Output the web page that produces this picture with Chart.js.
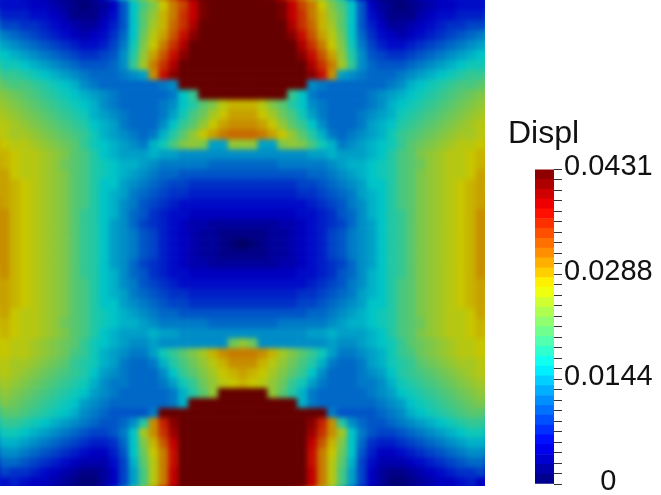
<!DOCTYPE html>
<html><head><meta charset="utf-8">
<style>html,body{margin:0;padding:0;width:661px;height:495px;overflow:hidden;background:#fff}
canvas{position:absolute;display:block}
#fieldBox{position:absolute;left:0;top:0;width:485px;height:486px;overflow:hidden}
#field{left:-12px;top:-12px;filter:blur(2.5px)}</style>
<script src="https://cdn.jsdelivr.net/npm/chart.js@4"></script>
</head><body>
<div id="fieldBox"><canvas id="field" width="510" height="511"></canvas></div>
<canvas id="bar" width="153" height="395" style="left:508px;top:110px"></canvas>
<script>
// Displacement, in units of 0.001
const row00=[6,6,6,5,5,4,3,2,1,2,3,5,10,16,20,23,27,31,34,38,42,43,43,43,43,43,43,43,42,38,34,31,27,23,20,16,10,5,3,2,1,2,3,4,5,5,6,6,6];
const row01=[7,7,7,6,6,5,4,2,2,2,4,6,10,16,21,24,28,31,35,38,42,43,43,43,43,43,43,43,42,38,35,31,28,24,21,16,10,6,4,2,2,2,4,5,6,6,7,7,7];
const row02=[9,9,8,8,7,6,5,4,3,3,5,7,10,16,21,25,28,32,35,39,43,43,43,43,43,43,43,43,43,39,35,32,28,25,21,16,10,7,5,3,3,4,5,6,7,8,8,9,9];
const row03=[12,11,10,9,8,7,6,5,4,5,6,8,11,16,22,26,29,33,37,41,43,43,43,43,43,43,43,43,43,41,37,33,29,26,22,16,11,8,6,5,4,5,6,7,8,9,10,11,12];
const row04=[14,13,12,11,10,9,8,7,6,6,7,9,12,17,23,27,31,35,39,43,43,43,43,43,43,43,43,43,43,43,39,35,31,27,23,17,12,9,7,6,6,7,8,9,10,11,12,13,14];
const row05=[16,15,14,13,12,11,10,9,8,8,9,10,13,18,24,29,33,37,41,43,43,43,43,43,43,43,43,43,43,43,41,37,33,29,24,18,13,10,9,8,8,9,10,11,12,13,14,15,16];
const row06=[17,17,16,15,14,13,12,11,10,10,10,11,13,19,25,31,35,39,43,43,43,43,43,43,43,43,43,43,43,43,43,39,35,31,25,19,13,11,10,10,10,11,12,13,14,15,16,17,17];
const row07=[19,19,18,17,16,15,14,13,12,11,11,11,12,13,14,30,37,41,43,43,43,43,43,43,43,43,43,43,43,43,43,41,37,30,14,13,12,11,11,11,12,13,14,15,16,17,18,19,19];
const row08=[21,20,20,19,18,17,16,15,13,12,11,11,11,11,11,11,12,13,43,43,43,43,43,43,43,43,43,43,43,43,43,13,12,11,11,11,11,11,11,12,13,15,16,17,18,19,20,20,21];
const row09=[23,22,21,20,19,18,17,16,15,14,13,12,11,11,11,11,11,12,16,19,43,43,43,43,43,43,43,43,43,19,16,12,11,11,11,11,11,12,13,14,15,16,17,18,19,20,21,22,23];
const row10=[24,23,22,21,20,19,18,17,16,15,13,12,11,11,11,11,12,13,16,18,21,23,26,28,28,28,26,23,21,18,16,13,12,11,11,11,11,12,13,15,16,17,18,19,20,21,22,23,24];
const row11=[25,24,23,22,21,20,19,18,17,15,14,13,12,11,11,11,12,14,17,20,22,25,27,29,29,29,27,25,22,20,17,14,12,11,11,11,12,13,14,15,17,18,19,20,21,22,23,24,25];
const row12=[26,25,24,23,22,21,20,19,18,16,15,14,12,11,11,11,13,16,19,21,24,27,29,30,30,30,29,27,24,21,19,16,13,11,11,11,12,14,15,16,18,19,20,21,22,23,24,25,26];
const row13=[26,25,25,24,23,22,21,20,19,17,15,14,13,12,11,12,15,18,21,24,27,29,31,32,32,32,31,29,27,24,21,18,15,12,11,12,13,14,15,17,19,20,21,22,23,24,25,25,26];
const row14=[27,26,26,25,24,23,22,21,19,17,16,15,14,13,12,15,17,20,23,24,23,14,14,24,24,24,14,14,23,24,23,20,17,15,12,13,14,15,16,17,19,21,22,23,24,25,26,26,27];
const row15=[28,27,26,26,25,24,23,21,20,18,16,15,14,14,14,15,14,14,13,13,13,13,13,13,13,13,13,13,13,13,13,14,14,15,14,14,14,15,16,18,20,21,23,24,25,26,26,27,28];
const row16=[28,27,26,26,25,24,22,21,20,18,17,16,15,15,14,13,12,12,12,12,12,11,11,11,11,11,11,11,12,12,12,12,12,13,14,15,15,16,17,18,20,21,22,24,25,26,26,27,28];
const row17=[29,27,26,26,25,24,23,21,20,18,17,16,15,14,13,12,11,11,10,10,10,10,10,10,10,10,10,10,10,10,10,11,11,12,13,14,15,16,17,18,20,21,23,24,25,26,26,27,29];
const row18=[29,28,27,26,25,24,23,21,20,18,16,16,14,13,12,11,10,9,9,8,8,8,8,8,8,8,8,8,8,8,9,9,10,11,12,13,14,16,16,18,20,21,23,24,25,26,27,28,29];
const row19=[29,28,27,26,25,24,23,21,20,18,16,15,14,12,11,10,9,8,8,7,7,7,7,7,7,7,7,7,7,7,8,8,9,10,11,12,14,15,16,18,20,21,23,24,25,26,27,28,29];
const row20=[29,28,27,26,25,24,23,21,20,18,16,15,13,12,10,9,8,7,6,6,6,6,6,6,6,6,6,6,6,6,6,7,8,9,10,12,13,15,16,18,20,21,23,24,25,26,27,28,29];
const row21=[30,28,27,26,25,24,23,21,19,18,16,15,13,11,10,8,7,6,6,5,5,5,5,5,5,5,5,5,5,5,6,6,7,8,10,11,13,15,16,18,19,21,23,24,25,26,27,28,30];
const row22=[30,28,27,26,25,24,23,21,19,18,16,14,13,11,9,8,7,6,5,4,4,3,3,3,3,3,3,3,4,4,5,6,7,8,9,11,13,14,16,18,19,21,23,24,25,26,27,28,30];
const row23=[30,28,27,26,25,24,23,21,19,18,16,14,13,12,10,9,7,6,5,4,3,3,2,2,2,2,2,3,3,4,5,6,7,9,10,12,13,14,16,18,19,21,23,24,25,26,27,28,30];
const row24=[30,28,27,26,25,24,23,21,19,18,16,14,13,12,10,9,7,6,5,4,3,3,2,1,0,1,2,3,3,4,5,6,7,9,10,12,13,14,16,18,19,21,23,24,25,26,27,28,30];
const row25=[30,28,27,26,25,24,23,21,19,18,16,14,13,12,10,9,7,6,5,4,3,3,2,2,2,2,2,3,3,4,5,6,7,9,10,12,13,14,16,18,19,21,23,24,25,26,27,28,30];
const row26=[30,28,27,26,25,24,23,21,19,18,16,14,13,11,9,8,7,6,5,4,4,3,3,3,3,3,3,3,4,4,5,6,7,8,9,11,13,14,16,18,19,21,23,24,25,26,27,28,30];
const row27=[30,28,27,26,25,24,23,21,19,18,16,15,13,11,10,8,7,6,6,5,5,5,5,5,5,5,5,5,5,5,6,6,7,8,10,11,13,15,16,18,19,21,23,24,25,26,27,28,30];
const row28=[29,28,27,26,25,24,23,21,20,18,16,15,13,12,10,9,8,7,6,6,6,6,6,6,6,6,6,6,6,6,6,7,8,9,10,12,13,15,16,18,20,21,23,24,25,26,27,28,29];
const row29=[29,28,27,26,25,24,23,21,20,18,16,15,14,12,11,10,9,8,8,7,7,7,7,7,7,7,7,7,7,7,8,8,9,10,11,12,14,15,16,18,20,21,23,24,25,26,27,28,29];
const row30=[29,28,27,26,25,24,23,21,20,18,16,16,14,13,12,11,10,9,9,8,8,8,8,8,8,8,8,8,8,8,9,9,10,11,12,13,14,16,16,18,20,21,23,24,25,26,27,28,29];
const row31=[29,27,26,26,25,24,23,21,20,18,17,16,15,14,13,12,11,11,10,10,10,10,10,10,10,10,10,10,10,10,10,11,11,12,13,14,15,16,17,18,20,21,23,24,25,26,26,27,29];
const row32=[28,27,26,26,25,24,22,21,20,18,17,16,15,15,14,13,12,12,12,12,12,11,11,11,11,11,11,11,12,12,12,12,12,13,14,15,15,16,17,18,20,21,22,24,25,26,26,27,28];
const row33=[28,27,26,26,25,24,23,21,20,18,16,15,14,14,14,15,14,14,13,13,13,13,13,13,13,13,13,13,13,13,13,14,14,15,14,14,14,15,16,18,20,21,23,24,25,26,26,27,28];
const row34=[27,26,26,25,24,23,22,21,19,17,16,15,14,13,13,14,13,13,13,13,13,13,13,22,24,22,13,13,13,13,13,13,13,14,13,13,14,15,16,17,19,21,22,23,24,25,26,26,27];
const row35=[27,26,26,25,24,23,22,20,19,17,15,14,13,12,12,14,17,19,21,23,25,28,30,31,31,31,30,28,25,23,21,19,17,14,12,12,13,14,15,17,19,20,22,23,24,25,26,26,27];
const row36=[26,25,25,24,23,22,21,19,18,17,15,14,12,11,11,12,15,18,20,22,24,26,28,30,30,30,28,26,24,22,20,18,15,12,11,11,12,14,15,17,18,19,21,22,23,24,25,25,26];
const row37=[26,25,24,23,22,21,20,19,18,16,14,13,12,11,11,11,13,16,19,21,23,25,27,28,29,28,27,25,23,21,19,16,13,11,11,11,12,13,14,16,18,19,20,21,22,23,24,25,26];
const row38=[25,24,23,22,21,20,19,18,17,15,13,12,12,11,11,11,12,14,17,19,22,24,26,27,28,27,26,24,22,19,17,14,12,11,11,11,12,12,13,15,17,18,19,20,21,22,23,24,25];
const row39=[24,23,22,21,20,19,18,17,16,14,13,12,11,11,11,11,11,12,15,18,21,24,43,43,43,43,43,24,21,18,15,12,11,11,11,11,11,12,13,14,16,17,18,19,20,21,22,23,24];
const row40=[23,22,21,20,19,18,17,16,14,13,12,11,11,11,11,11,11,12,15,43,43,43,43,43,43,43,43,43,43,43,15,12,11,11,11,11,11,11,12,13,14,16,17,18,19,20,21,22,23];
const row41=[21,21,20,19,18,17,16,15,13,12,11,10,10,10,10,12,43,43,43,43,43,43,43,43,43,43,43,43,43,43,43,43,43,12,10,10,10,10,11,12,13,15,16,17,18,19,20,21,21];
const row42=[19,19,18,17,16,15,14,13,12,11,10,10,11,13,18,30,36,41,43,43,43,43,43,43,43,43,43,43,43,43,43,41,36,30,18,13,11,10,10,11,12,13,14,15,16,17,18,19,19];
const row43=[17,17,16,15,14,13,12,11,10,9,9,10,12,16,25,30,35,40,43,43,43,43,43,43,43,43,43,43,43,43,43,40,35,30,25,16,12,10,9,9,10,11,12,13,14,15,16,17,17];
const row44=[15,15,14,13,12,11,10,9,8,7,7,8,11,16,23,28,33,38,43,43,43,43,43,43,43,43,43,43,43,43,43,38,33,28,23,16,11,8,7,7,8,9,10,11,12,13,14,15,15];
const row45=[13,13,12,11,10,9,8,7,6,5,5,7,10,16,22,27,31,37,43,43,43,43,43,43,43,43,43,43,43,43,43,37,31,27,22,16,10,7,5,5,6,7,8,9,10,11,12,13,13];
const row46=[11,11,10,9,8,7,6,5,4,4,4,6,9,15,21,26,31,37,43,43,43,43,43,43,43,43,43,43,43,43,43,37,31,26,21,15,9,6,4,4,4,5,6,7,8,9,10,11,11];
const row47=[9,8,8,7,6,5,4,3,2,2,3,5,9,14,20,26,31,38,43,43,43,43,43,43,43,43,43,43,43,43,43,38,31,26,20,14,9,5,3,2,2,3,4,5,6,7,8,8,9];
const row48=[6,7,6,5,5,4,3,2,1,1,3,5,9,14,20,26,31,38,43,43,43,43,43,43,43,43,43,43,43,43,43,38,31,26,20,14,9,5,3,1,1,2,3,4,5,5,6,7,5];
const fieldRows=[row00,row01,row02,row03,row04,row05,row06,row07,row08,row09,row10,row11,row12,row13,row14,row15,row16,row17,row18,row19,row20,row21,row22,row23,row24,row25,row26,row27,row28,row29,row30,row31,row32,row33,row34,row35,row36,row37,row38,row39,row40,row41,row42,row43,row44,row45,row46,row47,row48];

const legendTitle="Displ";
const dataMax=0.0431;
const bandEdges=[0,.00135,.0027,.00404,.00539,.00673,.00808,.00943,.01078,.01212,.01347,.01482,.01616,.01751,.01886,.0202,.02155,.0229,.02424,.02559,.02694,.02829,.02963,.03098,.03233,.03367,.03502,.03637,.03771,.03906,.04041,.04175,.0431];
const tickValues=[0,.00144,.00287,.00431,.00575,.00718,.00862,.01006,.01149,.01293,.01437,.0158,.01724,.01868,.02011,.02155,.02299,.02442,.02586,.0273,.02873,.03017,.03161,.03304,.03448,.03592,.03735,.03879,.04023,.04166,.0431];
const labelledTicks=[0,.01437,.02873,.0431];
const tickLabels=["0","0.0144","0.0288","0.0431"];
const longTicks=[.01437,.02873];

function jet(f,k){
  f=Math.max(0,Math.min(1,f));
  const ramp=t=>Math.max(0,Math.min(1,t));
  const r=ramp(Math.min(4*f-1.5,-4*f+4.5));
  const g=ramp(Math.min(4*f-0.5,-4*f+3.5));
  const b=ramp(Math.min(4*f+0.5,-4*f+2.5));
  return `rgb(${Math.round(255*r*k)},${Math.round(255*g*k)},${Math.round(255*b*k)})`;
}
const fieldShade=0.78;
const cellColor=v=>jet(v*0.001/dataMax,fieldShade);

// Perimeter cells bleed past the frame underneath the field so the soft edge stays solid.
const bleed=[];
fieldRows.forEach((row,i)=>row.forEach((v,j)=>{
  if(i===0||j===0||i===fieldRows.length-1||j===row.length-1) bleed.push({x:j,y:i,v});
}));

new Chart(document.getElementById('field'),{
  type:'scatter',
  data:{datasets:[
    ...fieldRows.map((row,i)=>({
      data:row.map((v,j)=>({x:j,y:i})),
      pointBackgroundColor:row.map(cellColor),
      pointStyle:'rect',pointRadius:7.5,pointBorderWidth:0,pointHoverRadius:7.5,clip:false,order:0
    })),
    {data:bleed.map(p=>({x:p.x,y:p.y})),pointBackgroundColor:bleed.map(p=>cellColor(p.v)),
     pointStyle:'rect',pointRadius:24,pointBorderWidth:0,pointHoverRadius:24,clip:false,order:1}
  ]},
  options:{
    responsive:false,animation:false,events:[],
    layout:{autoPadding:false,padding:{left:12,top:12,right:12,bottom:12}},
    plugins:{legend:{display:false},title:{display:false},tooltip:{enabled:false}},
    scales:{
      x:{type:'linear',min:-0.5,max:48.5,display:false},
      y:{type:'linear',min:-0.5,max:48.5,reverse:true,display:false}
    }
  }
});

const bandSets=bandEdges.slice(0,-1).map((lo,i)=>({
  type:'bar',data:[[lo,bandEdges[i+1]]],
  backgroundColor:jet((lo+bandEdges[i+1])/2/dataMax,1),
  grouped:false,barPercentage:1,categoryPercentage:1,borderWidth:0,
  xAxisID:'x',yAxisID:'y'
}));
const tickSets=longTicks.map(v=>({
  type:'scatter',showLine:true,data:[{x:0.55,y:v},{x:1,y:v}],
  borderColor:'#333',borderWidth:1,pointRadius:0,xAxisID:'xTick',yAxisID:'y'
}));
new Chart(document.getElementById('bar'),{
  data:{labels:[legendTitle],datasets:[...bandSets,...tickSets]},
  options:{
    responsive:false,animation:false,events:[],
    layout:{autoPadding:false,padding:{left:0,right:8,top:0,bottom:21}},
    plugins:{
      legend:{display:false},tooltip:{enabled:false},
      title:{display:true,text:legendTitle,align:'start',color:'#111',
        font:{family:'"Liberation Sans"',size:32,weight:'normal'},
        padding:{top:5,bottom:16}}
    },
    scales:{
      x:{type:'category',display:false},
      xTick:{type:'linear',min:0,max:1,display:false},
      gutter:{type:'linear',position:'left',display:true,
        ticks:{display:false},grid:{display:false},border:{display:false},
        afterFit(s){s.width=27;s.paddingTop=0;s.paddingBottom=0;}},
      y:{type:'linear',position:'right',min:0,max:dataMax,
        afterBuildTicks(s){s.ticks=tickValues.map(v=>({value:v}));},
        afterFit(s){s.width=99;s.paddingTop=0;s.paddingBottom=0;},
        grid:{drawOnChartArea:false,drawTicks:true,tickLength:8,color:'#333',lineWidth:1},
        border:{display:false},
        ticks:{autoSkip:false,padding:2,labelOffset:-2,crossAlign:'center',color:'#111',
          font:{family:'"Liberation Sans"',size:29},
          callback(v){const k=labelledTicks.findIndex(t=>Math.abs(t-v)<1e-5);return k<0?'':tickLabels[k];}}
      }
    }
  }
});
</script>
</body></html>
